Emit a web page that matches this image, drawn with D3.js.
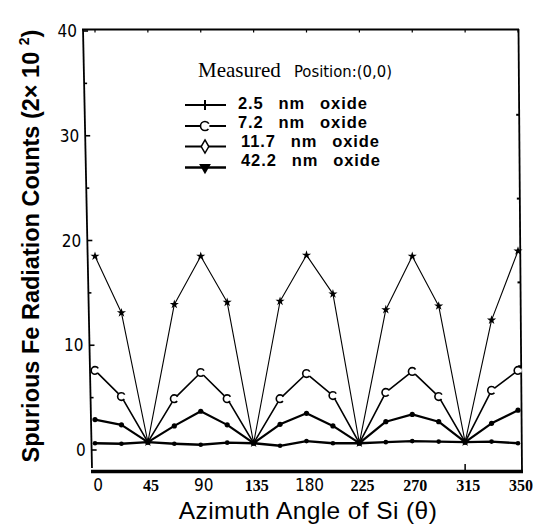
<!DOCTYPE html>
<html><head><meta charset="utf-8">
<script src="https://cdn.jsdelivr.net/npm/d3@7"></script>
<style>body{margin:0;background:#fff}</style>
</head><body>
<svg id="c" width="533" height="524"></svg>
<script>
// ---- data ----
const angles = [0,22.5,45,67.5,90,112.5,135,157.5,180,202.5,225,247.5,270,292.5,315,337.5,360];
const s25  = [18.5,13.1,0.75,13.9,18.5,14.1,0.65,14.2,18.6,14.9,0.65,13.4,18.5,13.75,0.75,12.4,19.0];
const s72  = [7.6,5.1,0.75,4.9,7.4,4.9,0.65,4.9,7.3,5.2,0.65,5.5,7.5,5.1,0.75,5.7,7.6];
const s117 = [2.9,2.4,0.75,2.3,3.7,2.4,0.65,2.45,3.5,2.3,0.65,2.7,3.4,2.7,0.75,2.55,3.8];
const s422 = [0.65,0.6,0.75,0.6,0.5,0.7,0.65,0.4,0.85,0.65,0.65,0.75,0.85,0.8,0.75,0.8,0.65];
const seriesNames = ["2.5  nm  oxide","7.2  nm  oxide","11.7  nm  oxide","42.2  nm  oxide"];
const xTickValues = [0,45,90,135,180,225,270,315,360];
const xTickLabels = ["0","45","90","135","180","225","270","315","350"];
const serifTickLabels = ["45","135","225","270","315","350"];
const yTickValues = [0,10,20,30,40];
const yMinorValues = [5,15,25,35];
const rightTickValues = [8,16,24,32];

const svg = d3.select("#c");
const x = d3.scaleLinear().domain([0,360]).range([95,518]);
const y = d3.scaleLinear().domain([0,40]).range([450,31]);

// slanted left border (scanned figure)
const lx = yy => 83 + (yy-29)/(468-29)*9;

// frame
svg.append("line").attr("x1",lx(29)).attr("y1",29).attr("x2",lx(468)).attr("y2",468)
  .attr("stroke","#000").attr("stroke-width",1.8);
svg.append("line").attr("x1",82).attr("y1",29.5).attr("x2",519).attr("y2",29.5)
  .attr("stroke","#000").attr("stroke-width",2);
svg.append("line").attr("x1",518.5).attr("y1",29).attr("x2",522).attr("y2",472)
  .attr("stroke","#000").attr("stroke-width",1.8);
svg.append("line").attr("x1",91).attr("y1",471.5).attr("x2",523).attr("y2",471.5)
  .attr("stroke","#000").attr("stroke-width",3.5);

// y ticks
const rx = yy => 518.5 + (yy-29)/(472-29)*3.5;
yTickValues.forEach(v=>{
  const yy=y(v);
  svg.append("line").attr("x1",lx(yy)).attr("x2",lx(yy)+5).attr("y1",yy).attr("y2",yy)
    .attr("stroke","#000").attr("stroke-width",1.6);
  svg.append("text").attr("x",lx(yy)-6).attr("y",yy+6).attr("text-anchor","end")
    .attr("font-family","'Liberation Sans Narrow','DejaVu Sans Condensed',sans-serif")
    .attr("font-size",17).text(v);
});
yMinorValues.forEach(v=>{
  const yy=y(v);
  svg.append("line").attr("x1",lx(yy)).attr("x2",lx(yy)+3).attr("y1",yy).attr("y2",yy)
    .attr("stroke","#000").attr("stroke-width",1.6);
});
rightTickValues.forEach(v=>{
  const yy=y(v);
  svg.append("line").attr("x1",rx(yy)).attr("x2",rx(yy)-3).attr("y1",yy).attr("y2",yy)
    .attr("stroke","#000").attr("stroke-width",2);
});
// top minor ticks
xTickValues.forEach(v=>{
  svg.append("line").attr("x1",x(v)).attr("x2",x(v)).attr("y1",30).attr("y2",32.5)
    .attr("stroke","#000").attr("stroke-width",1.2);
});
// bottom tick at 315
svg.append("line").attr("x1",x(315)).attr("x2",x(315)).attr("y1",470).attr("y2",464)
  .attr("stroke","#000").attr("stroke-width",1.5);

// x tick labels
xTickValues.forEach((v,i)=>{
  const lab = xTickLabels[i];
  const serif = serifTickLabels.includes(lab);
  svg.append("text").attr("x",x(v)+3).attr("y",491).attr("text-anchor","middle")
    .attr("font-family", serif ? "'Liberation Serif','Times New Roman',serif" : "'Liberation Sans Narrow','DejaVu Sans Condensed',sans-serif")
    .attr("font-weight", serif ? "bold" : "normal")
    .attr("font-size", serif ? 16 : 17).text(lab);
});

// axis titles
svg.append("text").attr("x",308).attr("y",518.5).attr("text-anchor","middle")
  .attr("font-family","'Liberation Sans',Arial,sans-serif").attr("font-size",24.5)
  .attr("letter-spacing",0.4)
  .text("Azimuth Angle of Si (θ)");
const yt = svg.append("text").attr("transform","translate(39,246) rotate(-90)")
  .attr("text-anchor","middle").attr("font-family","'Liberation Sans',Arial,sans-serif")
  .attr("font-weight","bold").attr("font-size",23.5);
yt.append("tspan").text("Spurious Fe Radiation Counts (2× 10 ");
yt.append("tspan").attr("font-size",14).attr("dy",-10).text("2");
yt.append("tspan").attr("dy",10).text(")");

// series
const series = [s25,s72,s117,s422];
const widths = [1.1,1.6,2.2,2.4];
const line = d3.line().x((d,i)=>x(angles[i])).y(d=>y(d));
series.forEach((s,k)=>{
  svg.append("path").datum(s).attr("d",line).attr("fill","none")
    .attr("stroke","#000").attr("stroke-width",widths[k]).attr("stroke-linejoin","round");
});
// markers
const star = d3.symbol().type(d3.symbolStar).size(26);
s25.forEach((v,i)=>{
  svg.append("path").attr("d",star).attr("transform",`translate(${x(angles[i])},${y(v)})`).attr("fill","#000");
});
function cMark(g,cx,cy,r,sw){
  const c = 2*Math.PI*r, gap = c*0.11;
  g.append("circle").attr("cx",cx).attr("cy",cy).attr("r",r).attr("fill","#fff")
    .attr("stroke","#000").attr("stroke-width",sw)
    .attr("stroke-dasharray",`0 ${gap} ${c-2*gap} ${gap}`);
}
s72.forEach((v,i)=>{ if(v>1) cMark(svg,x(angles[i]),y(v),3.8,1.6); });
s117.forEach((v,i)=>{
  svg.append("circle").attr("cx",x(angles[i])).attr("cy",y(v)).attr("r",2.6).attr("fill","#000");
});
s422.forEach((v,i)=>{
  svg.append("circle").attr("cx",x(angles[i])).attr("cy",y(v)).attr("r",2.3).attr("fill","#000");
});

// legend
svg.append("text").attr("x",198).attr("y",77).attr("font-family","'Liberation Serif','Times New Roman',serif")
  .attr("font-size",21).text("Measured");
svg.append("text").attr("x",294).attr("y",77).attr("font-family","'Liberation Sans Narrow','DejaVu Sans Condensed',sans-serif")
  .attr("font-size",16.5).text("Position:(0,0)");
const rowY = [105,126,146.5,167.5];
const textY = [108.5,127.5,146.5,165.5];
const textX = [238,238,241,241];
seriesNames.forEach((n,k)=>{
  const yy=rowY[k];
  svg.append("line").attr("x1",185).attr("x2",226).attr("y1",yy).attr("y2",yy)
    .attr("stroke","#000").attr("stroke-width",k<3?2.2:2.6);
  if(k===0){
    svg.append("line").attr("x1",205).attr("x2",205).attr("y1",yy-5).attr("y2",yy+5).attr("stroke","#000").attr("stroke-width",2);
  } else if(k===1){
    cMark(svg,205,yy,4.5,1.6);
  } else if(k===2){
    svg.append("path").attr("d",d3.symbol().type(d3.symbolDiamond).size(50)).attr("transform",`translate(205,${yy})`)
      .attr("fill","#fff").attr("stroke","#000").attr("stroke-width",1.5);
  } else {
    svg.append("path").attr("d",d3.symbol().type(d3.symbolTriangle).size(60)).attr("transform",`translate(205,${yy}) rotate(180)`)
      .attr("fill","#000");
  }
  svg.append("text").attr("x",textX[k]).attr("y",textY[k]).attr("font-family","'Liberation Sans',Arial,sans-serif")
    .attr("font-weight","bold").attr("font-size",16.5).attr("letter-spacing",0.9).attr("word-spacing",2)
    .attr("style","white-space:pre").text(n);
});
</script>
</body></html>
